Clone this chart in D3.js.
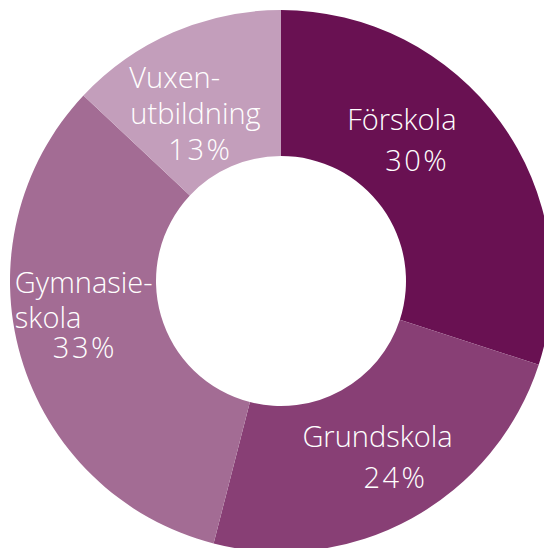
<!DOCTYPE html>
<html>
<head>
<meta charset="utf-8">
<script src="https://cdn.jsdelivr.net/npm/d3@7"></script>
<style>
  html, body { margin: 0; padding: 0; background: #fff; }
  svg { display: block; }
  .label { font-family: 'Open Sans', 'Noto Sans', sans-serif; font-weight: 300; font-size: 29px; fill: #fff; }
  .label.pct { letter-spacing: 2.5px; }
</style>
</head>
<body>
<script>
// data
const categories = ['Förskola', 'Grundskola', 'Gymnasieskola', 'Vuxenutbildning'];
const shares = [30, 24, 33, 13];
const labelLines = [
  ['Förskola', '30%'],
  ['Grundskola', '24%'],
  ['Gymnasie-', 'skola', '33%'],
  ['Vuxen-', 'utbildning', '13%'],
];
const colors = ['#691152', '#883f75', '#a36c94', '#c39ebb'];

// layout: offset of each label line from the slice centroid
const labelOffsets = [
  [[-94, -35], [-56, 6]],
  [[-74, -8], [-13, 33]],
  [[-76, -43], [-76, -8], [-38, 22]],
  [[-73, -11], [-72, 25], [-34, 61]],
];

const width = 544;
const height = 548;
const cx = 281;
const cy = 281;
const outerR = 271;
const innerR = 125;

const data = categories.map((name, i) => ({ name, value: shares[i], lines: labelLines[i], offsets: labelOffsets[i] }));

const svg = d3.select('body')
  .append('svg')
  .attr('width', width)
  .attr('height', height);

const g = svg.append('g')
  .attr('transform', `translate(${cx}, ${cy})`);

const color = d3.scaleOrdinal()
  .domain(categories)
  .range(colors);

const pie = d3.pie()
  .sort(null)
  .value(d => d.value);

const arc = d3.arc()
  .innerRadius(innerR)
  .outerRadius(outerR);

const arcs = pie(data);

g.selectAll('path')
  .data(arcs)
  .enter()
  .append('path')
  .attr('d', arc)
  .attr('fill', d => color(d.data.name));

const labels = g.selectAll('g.lbl')
  .data(arcs)
  .enter()
  .append('g')
  .attr('class', 'lbl')
  .attr('transform', d => `translate(${arc.centroid(d)})`);

labels.selectAll('text')
  .data(d => d.data.lines.map((t, i) => ({ t, off: d.data.offsets[i] })))
  .enter()
  .append('text')
  .attr('class', d => d.t.endsWith('%') ? 'label pct' : 'label')
  .attr('x', d => d.off[0])
  .attr('y', d => d.off[1])
  .text(d => d.t);
</script>
</body>
</html>
